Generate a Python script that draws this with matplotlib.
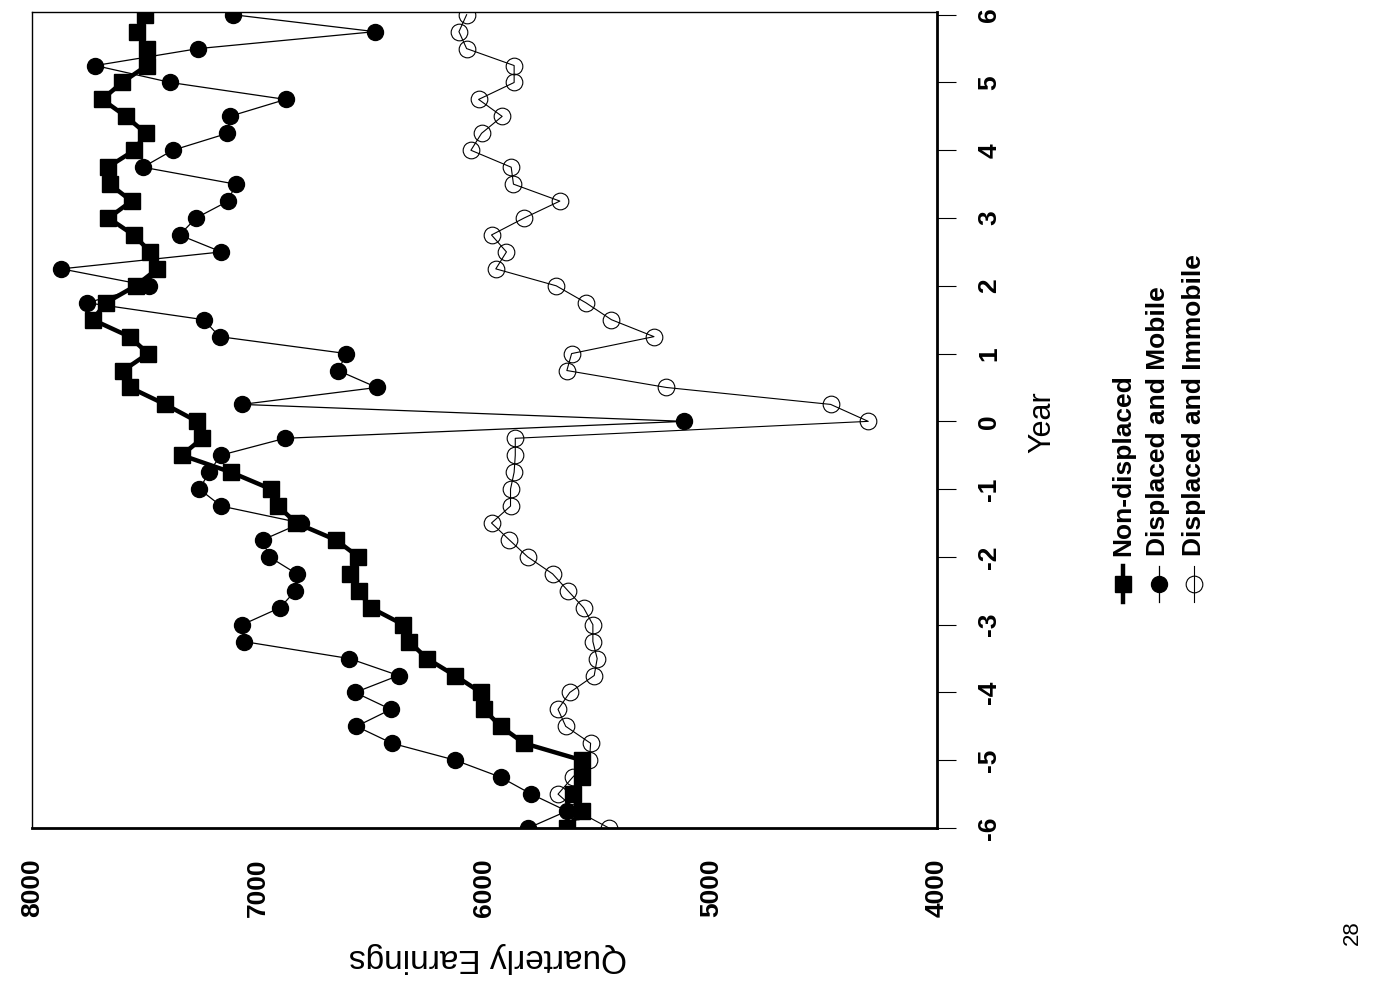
import matplotlib.pyplot as plt
from matplotlib.lines import Line2D

plt.rcParams['font.family'] = ['Liberation Sans', 'DejaVu Sans']
plt.rcParams['axes.unicode_minus'] = False

# quarters relative to displacement, year -6 to year 6
quarters = [q / 4 for q in range(-24, 25)]

non_displaced = [5636, 5570, 5610, 5570, 5570, 5825, 5929, 6003, 6016, 6131,
                 6254, 6333, 6359, 6503, 6556, 6594, 6557, 6657, 6832, 6913,
                 6944, 7121, 7338, 7248, 7271, 7411, 7567, 7597, 7487, 7569,
                 7732, 7673, 7542, 7446, 7477, 7551, 7662, 7560, 7657, 7665,
                 7547, 7497, 7585, 7690, 7602, 7492, 7493, 7538, 7501]

displaced_mobile = [5806, 5636, 5793, 5929, 6129, 6409, 6566, 6414, 6572, 6380,
                    6597, 7062, 7070, 6904, 6836, 6830, 6951, 6981, 6810, 7164,
                    7260, 7217, 7166, 6882, 5117, 7072, 6476, 6647, 6610, 7171,
                    7241, 7757, 7483, 7870, 7163, 7348, 7275, 7133, 7100, 7510,
                    7378, 7136, 7126, 6879, 7388, 7720, 7265, 6484, 7111]

displaced_immobile = [5450, 5590, 5675, 5610, 5536, 5531, 5641, 5675, 5623, 5515,
                      5502, 5521, 5521, 5562, 5631, 5699, 5809, 5890, 5969, 5885,
                      5885, 5869, 5864, 5864, 4304, 4470, 5196, 5636, 5615, 5251,
                      5439, 5552, 5683, 5950, 5903, 5969, 5825, 5667, 5872, 5882,
                      6060, 6013, 5922, 6026, 5869, 5869, 6079, 6113, 6079]

earnings_ticks = [4000, 5000, 6000, 7000, 8000]
year_ticks = list(range(-6, 7))
series_labels = ['Non-displaced', 'Displaced and Mobile', 'Displaced and Immobile']

W, H = 1385, 982
fig = plt.figure(figsize=(W / 100, H / 100), dpi=100)
fig.patch.set_facecolor('white')

# the page is printed sideways: earnings along the bottom, years up the right
ax = fig.add_axes([32 / W, 1 - 828 / H, (937 - 32) / W, (828 - 12) / H])

immobile_style = dict(color='black', lw=0.8, marker='o', ms=12, mfc='none', mec='black', mew=0.8)
mobile_style = dict(color='black', lw=0.9, marker='o', ms=11.5, mfc='black', mec='black')
nondisp_style = dict(color='black', lw=3.2, marker='s', ms=11, mfc='black', mec='black')

ax.plot(displaced_immobile, quarters, **immobile_style)
ax.plot(displaced_mobile, quarters, **mobile_style)
ax.plot(non_displaced, quarters, **nondisp_style)

ax.set_xlim(8000, 4000)
ax.set_ylim(-6, 6.04)
ax.set_xticks(earnings_ticks)
ax.set_yticks(year_ticks)

ax.yaxis.tick_right()
ax.tick_params(axis='y', direction='out', length=14, width=0.8, pad=15,
               labelsize=19, labelrotation=90)
ax.tick_params(axis='x', length=0, pad=22, labelsize=19, labelrotation=90)
for lab in ax.get_xticklabels() + ax.get_yticklabels():
    lab.set_fontweight('bold')
for lab in ax.get_yticklabels():
    lab.set_verticalalignment('center')

ax.spines['right'].set_linewidth(2)
ax.spines['bottom'].set_linewidth(2)
ax.spines['top'].set_linewidth(1)
ax.spines['left'].set_linewidth(1)

fig.text(1042 / W, 1 - 422 / H, 'Year', rotation=90, ha='center', va='center', fontsize=22)
fig.text(488 / W, 1 - 957 / H, 'Quarterly Earnings', rotation=180,
         ha='center', va='center', fontsize=24)

# legend, turned on its side like the rest of the page
styles = [nondisp_style, mobile_style, immobile_style]
for i, (label, style) in enumerate(zip(series_labels, styles)):
    x = (1123 + 35.5 * i) / W
    fig.add_artist(Line2D([x, x], [1 - 602 / H, 1 - 566 / H], transform=fig.transFigure,
                          color='black', lw=style['lw']))
    fig.add_artist(Line2D([x], [1 - 584 / H], transform=fig.transFigure, ls='none',
                          marker=style['marker'], ms=style['ms'], mfc=style['mfc'],
                          mec='black', mew=style.get('mew', 1.0)))
    fig.text(x, 1 - 556 / H, label, rotation=90, ha='center', va='bottom',
             fontsize=19, fontweight='bold')

fig.text(1352 / W, 1 - 933 / H, '28', rotation=90, ha='center', va='center', fontsize=16)

fig.savefig('out.png', dpi=100)
